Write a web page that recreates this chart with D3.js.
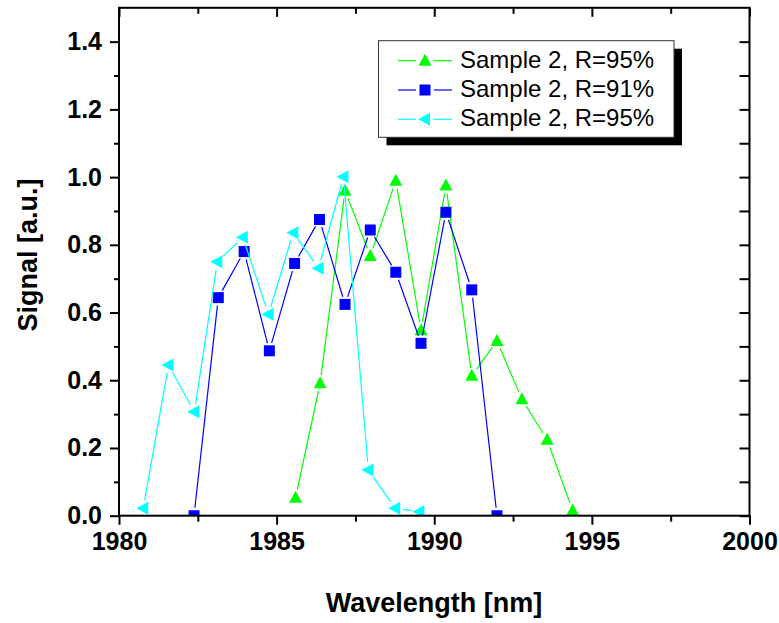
<!DOCTYPE html>
<html>
<head>
<meta charset="utf-8">
<script src="https://cdn.jsdelivr.net/npm/d3@7"></script>
<style>
  html, body { margin: 0; padding: 0; background: #fff; }
  svg { display: block; }
  text { font-family: "Liberation Sans", Arial, sans-serif; }
</style>
</head>
<body>
<svg id="chart" width="779" height="623"></svg>
<script>
// ---- data ----
const greenX = [1985.6, 1986.38, 1987.17, 1987.97, 1988.78, 1989.58, 1990.37, 1991.19, 1991.99, 1992.78, 1993.58, 1994.39];
const greenY = [0.053, 0.391, 0.96, 0.767, 0.989, 0.548, 0.975, 0.413, 0.516, 0.344, 0.224, 0.015];

const blueX = [1982.38, 1983.15, 1983.97, 1984.77, 1985.57, 1986.36, 1987.17, 1987.97, 1988.78, 1989.58, 1990.37, 1991.19, 1991.99];
const blueY = [0.0, 0.644, 0.78, 0.487, 0.745, 0.875, 0.624, 0.844, 0.719, 0.509, 0.896, 0.667, 0.0];

const cyanX = [1980.77, 1981.57, 1982.39, 1983.12, 1983.93, 1984.74, 1985.53, 1986.33, 1987.12, 1987.91, 1988.76, 1989.53];
const cyanY = [0.022, 0.445, 0.307, 0.75, 0.822, 0.595, 0.836, 0.731, 1.001, 0.135, 0.022, 0.012];

const seriesNames = ["Sample 2, R=95%", "Sample 2, R=91%", "Sample 2, R=95%"];
const seriesColors = ["#00ff00", "#0000ff", "#00ffff"];
const seriesMarkers = ["up", "square", "left"];

const xMajorTicks = [1980, 1985, 1990, 1995, 2000];
const xMinorTicks = [1982.5, 1987.5, 1992.5, 1997.5];
const yMajorTicks = [0.0, 0.2, 0.4, 0.6, 0.8, 1.0, 1.2, 1.4];
const yMinorTicks = [0.1, 0.3, 0.5, 0.7, 0.9, 1.1, 1.3, 1.5];

const xTitle = "Wavelength [nm]";
const yTitle = "Signal [a.u.]";

// ---- layout ----
const L = 119, R = 749.5, T = 7.8, B = 515.7;
const x = d3.scaleLinear().domain([1980, 2000]).range([L, R]);
const y = d3.scaleLinear().domain([0, 1.5]).range([B, T]);

const svg = d3.select("#chart");

svg.append("defs").append("clipPath").attr("id", "plotclip")
  .append("rect").attr("x", L).attr("y", T).attr("width", R - L).attr("height", B - T);

function markerPath(type) {
  if (type === "square") return "M-5.5,-5.5H5.5V5.5H-5.5Z";
  if (type === "up") return "M0,-7L6.5,5L-6.5,5Z";
  if (type === "left") return "M-7,0L5,-6.5L5,6.5Z";
}

function segments(xs, ys, gap) {
  const pts = xs.map((v, i) => [x(v), y(ys[i])]);
  const segs = [];
  for (let i = 0; i < pts.length - 1; i++) {
    const [x1, y1] = pts[i], [x2, y2] = pts[i + 1];
    const dx = x2 - x1, dy = y2 - y1, len = Math.hypot(dx, dy);
    if (len <= 2 * gap) continue;
    const ux = dx / len, uy = dy / len;
    segs.push([x1 + ux * gap, y1 + uy * gap, x2 - ux * gap, y2 - uy * gap]);
  }
  return segs;
}

const series = [
  { xs: greenX, ys: greenY },
  { xs: blueX, ys: blueY },
  { xs: cyanX, ys: cyanY }
];

const plot = svg.append("g").attr("clip-path", "url(#plotclip)");
series.forEach((s, k) => {
  const g = plot.append("g");
  g.selectAll("line").data(segments(s.xs, s.ys, 8)).join("line")
    .attr("x1", d => d[0]).attr("y1", d => d[1])
    .attr("x2", d => d[2]).attr("y2", d => d[3])
    .attr("stroke", seriesColors[k]).attr("stroke-width", 1.2);
  g.selectAll("path").data(s.xs.map((v, i) => [v, s.ys[i]])).join("path")
    .attr("d", markerPath(seriesMarkers[k]))
    .attr("transform", d => `translate(${x(d[0])},${y(d[1])})`)
    .attr("fill", seriesColors[k]);
});

// ---- axes ----
function styleAxis(g) {
  g.select(".domain").remove();
  g.selectAll(".tick line").attr("stroke", "#000").attr("stroke-width", 2);
}
const fmtY = d3.format(".1f");
// bottom
svg.append("g").attr("transform", `translate(0,${B})`)
  .call(d3.axisBottom(x).tickValues(xMajorTicks).tickSize(9).tickPadding(8).tickFormat(d3.format("d")))
  .call(styleAxis)
  .call(g => g.selectAll("text").attr("font-size", 25).attr("font-weight", "bold").attr("fill", "#000")
    .attr("font-family", "Liberation Sans, Arial, sans-serif"));
svg.append("g").attr("transform", `translate(0,${B})`)
  .call(d3.axisBottom(x).tickValues(xMinorTicks).tickSize(6).tickFormat(""))
  .call(styleAxis);
// left
svg.append("g").attr("transform", `translate(${L},0)`)
  .call(d3.axisLeft(y).tickValues(yMajorTicks).tickSize(9).tickPadding(8).tickFormat(fmtY))
  .call(styleAxis)
  .call(g => g.selectAll("text").attr("font-size", 25).attr("font-weight", "bold").attr("fill", "#000")
    .attr("font-family", "Liberation Sans, Arial, sans-serif"));
svg.append("g").attr("transform", `translate(${L},0)`)
  .call(d3.axisLeft(y).tickValues(yMinorTicks.filter(v => v < 1.5)).tickSize(5).tickFormat(""))
  .call(styleAxis);
// top (inward)
svg.append("g").attr("transform", `translate(0,${T})`)
  .call(d3.axisTop(x).tickValues(xMajorTicks).tickSize(-9).tickFormat(""))
  .call(styleAxis);
svg.append("g").attr("transform", `translate(0,${T})`)
  .call(d3.axisTop(x).tickValues(xMinorTicks).tickSize(-6).tickFormat(""))
  .call(styleAxis);
// right (inward)
svg.append("g").attr("transform", `translate(${R},0)`)
  .call(d3.axisRight(y).tickValues(yMajorTicks).tickSize(-10).tickFormat(""))
  .call(styleAxis);
svg.append("g").attr("transform", `translate(${R},0)`)
  .call(d3.axisRight(y).tickValues(yMinorTicks.filter(v => v < 1.5)).tickSize(-10).tickFormat(""))
  .call(styleAxis);

// frame
svg.append("rect").attr("x", L).attr("y", T).attr("width", R - L).attr("height", B - T)
  .attr("fill", "none").attr("stroke", "#000").attr("stroke-width", 2);

// titles
svg.append("text").attr("x", 434).attr("y", 612).attr("text-anchor", "middle")
  .attr("font-size", 27).attr("font-weight", "bold").text(xTitle);
svg.append("text").attr("transform", "translate(37,255) rotate(-90)").attr("text-anchor", "middle")
  .attr("font-size", 27).attr("font-weight", "bold").text(yTitle);

// ---- legend ----
const lg = { x: 378.5, y: 40.7, w: 295.5, h: 96.6, sh: 8 };
const leg = svg.append("g");
leg.append("rect").attr("x", lg.x + lg.sh).attr("y", lg.y + lg.sh).attr("width", lg.w).attr("height", lg.h).attr("fill", "#000");
leg.append("rect").attr("x", lg.x).attr("y", lg.y).attr("width", lg.w).attr("height", lg.h)
  .attr("fill", "#fff").attr("stroke", "#333").attr("stroke-width", 1);
seriesNames.forEach((name, k) => {
  const cy = 60.7 + k * 29.3;
  const row = leg.append("g");
  row.append("line").attr("x1", 398).attr("x2", 416).attr("y1", cy).attr("y2", cy)
    .attr("stroke", seriesColors[k]).attr("stroke-width", 1.2);
  row.append("line").attr("x1", 434).attr("x2", 452).attr("y1", cy).attr("y2", cy)
    .attr("stroke", seriesColors[k]).attr("stroke-width", 1.2);
  row.append("path").attr("d", markerPath(seriesMarkers[k])).attr("transform", `translate(425,${cy})`)
    .attr("fill", seriesColors[k]);
  row.append("text").attr("x", 460).attr("y", cy + 7).attr("font-size", 24).attr("fill", "#000").text(name);
});
</script>
</body>
</html>
